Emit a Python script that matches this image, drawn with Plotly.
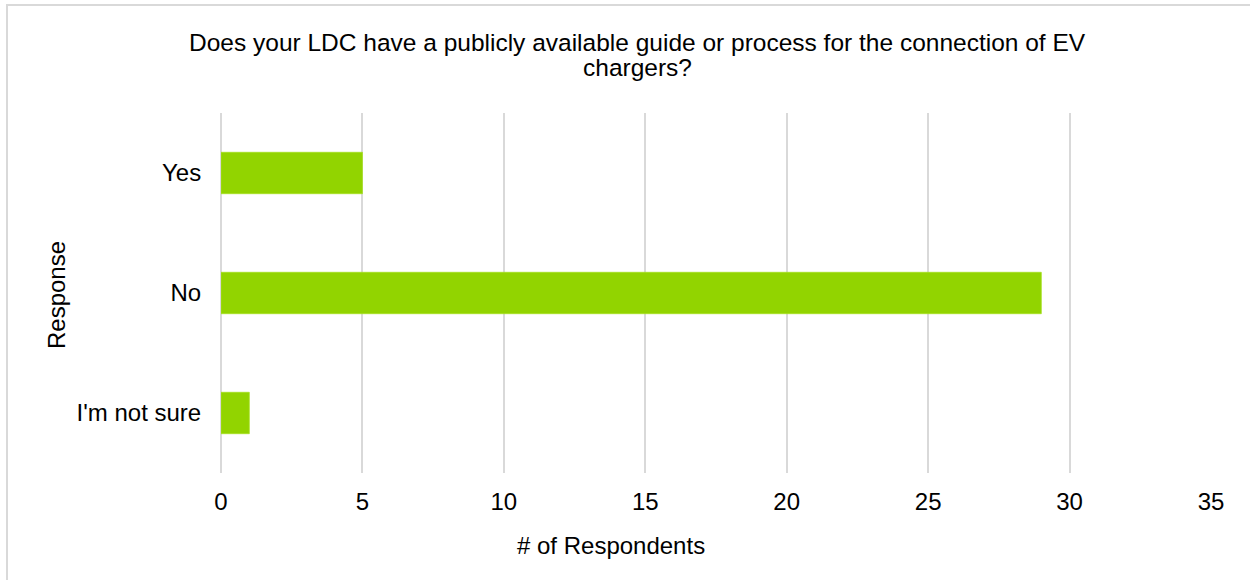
import plotly.graph_objects as go

# Survey responses
responses = ["Yes", "No", "I'm not sure"]
respondents = [5, 29, 1]
x_ticks = [0, 5, 10, 15, 20, 25, 30, 35]

title_lines = [
    "Does your LDC have a publicly available guide or process for the connection of EV",
    "chargers?",
]
x_title = "# of Respondents"
y_title = "Response"

W, H = 1250, 580
ML, MR, MT, MB = 221, 39, 113, 107
PW, PH = W - ML - MR, H - MT - MB


def px_to_paper_x(px):
    return (px - ML) / PW


def px_to_paper_y(py):
    return (H - MB - py) / PH


FONT = "Liberation Sans, Arial, sans-serif"
GRID = "#d9d9d9"
BAR = "#92d400"

fig = go.Figure(
    go.Bar(
        x=respondents,
        y=responses,
        orientation="h",
        marker=dict(color=BAR, line=dict(color="#a6e020", width=0.8)),
        hoverinfo="x+y",
    )
)

# Two-line chart title, set as annotations for tighter line spacing
title_annotations = [
    dict(
        text=line,
        xref="paper",
        yref="paper",
        x=px_to_paper_x(637),
        y=px_to_paper_y(cy),
        xanchor="center",
        yanchor="middle",
        showarrow=False,
        font=dict(size=24.5, family=FONT, color="#000000"),
    )
    for line, cy in zip(title_lines, [42, 67])
]

fig.update_layout(
    width=W,
    height=H,
    autosize=False,
    margin=dict(l=ML, r=MR, t=MT, b=MB, pad=0),
    paper_bgcolor="white",
    plot_bgcolor="white",
    bargap=0.655,
    showlegend=False,
    font=dict(family=FONT, color="#000000", size=24),
    xaxis=dict(
        range=[0, 35],
        tickvals=x_ticks,
        ticktext=[str(v) for v in x_ticks],
        showgrid=True,
        gridcolor=GRID,
        gridwidth=2,
        zeroline=True,
        zerolinecolor=GRID,
        zerolinewidth=2,
        showline=False,
        ticks="outside",
        ticklen=7,
        tickcolor="rgba(0,0,0,0)",
        tickfont=dict(size=24),
        fixedrange=True,
    ),
    yaxis=dict(
        categoryorder="array",
        categoryarray=responses[::-1],
        range=[-0.5, 2.5],
        showgrid=False,
        zeroline=False,
        showline=False,
        ticks="outside",
        ticklen=14,
        tickcolor="rgba(0,0,0,0)",
        tickfont=dict(size=24),
        fixedrange=True,
    ),
    shapes=[
        dict(
            type="rect",
            xref="paper",
            yref="paper",
            x0=px_to_paper_x(7),
            x1=px_to_paper_x(W + 10),
            y0=px_to_paper_y(H + 10),
            y1=px_to_paper_y(5),
            line=dict(color=GRID, width=2),
            fillcolor="rgba(0,0,0,0)",
            layer="below",
        )
    ],
    annotations=title_annotations + [
        dict(
            text=x_title,
            xref="paper",
            yref="paper",
            x=px_to_paper_x(611),
            y=px_to_paper_y(545),
            xanchor="center",
            yanchor="middle",
            showarrow=False,
            font=dict(size=24, family=FONT, color="#000000"),
        ),
        dict(
            text=y_title,
            xref="paper",
            yref="paper",
            x=px_to_paper_x(56),
            y=px_to_paper_y(295),
            xanchor="center",
            yanchor="middle",
            textangle=-90,
            showarrow=False,
            font=dict(size=24, family=FONT, color="#000000"),
        ),
    ],
)

fig.write_html("out.html", config={"displayModeBar": False})
